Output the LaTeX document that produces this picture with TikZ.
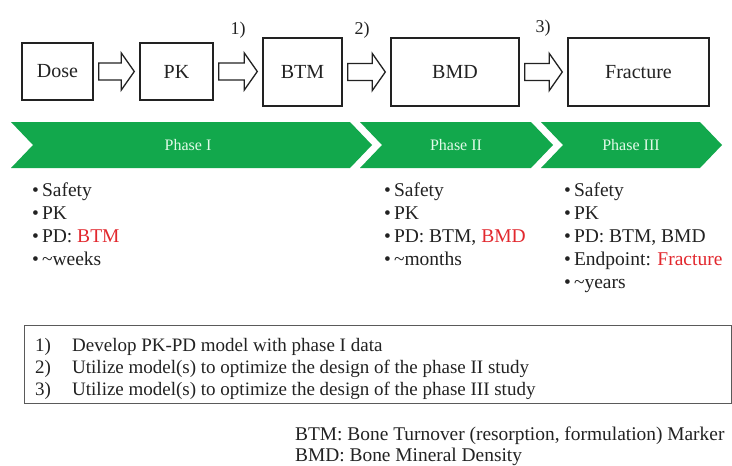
\documentclass[tikz,border=0pt]{standalone}
\usepackage{fontspec}
\setmainfont{Liberation Serif}
\usetikzlibrary{calc}

\definecolor{phasegreen}{RGB}{18,168,76}
\definecolor{phasetext}{RGB}{225,250,232}
\definecolor{hl}{RGB}{226,40,46}
\definecolor{ink}{RGB}{34,34,34}
\definecolor{notegray}{RGB}{90,90,90}

% hollow block arrow between two stage boxes
\newcommand{\blockarrow}[2]{%
  \draw[blk] let \p1=(#1.east), \p2=(#2.west) in
    (\x1+5pt,\y1+8.5pt) -- (\x2-18pt,\y1+8.5pt) -- (\x2-18pt,\y1+18.5pt)
    -- (\x2-5pt,\y1) -- (\x2-18pt,\y1-18.5pt) -- (\x2-18pt,\y1-8.5pt)
    -- (\x1+5pt,\y1-8.5pt) -- cycle;}

\begin{document}
\begin{tikzpicture}[x=1pt,y=-1pt,
  stage/.style={draw=ink, line width=1.4pt, fill=white, inner sep=0pt,
    text=ink, font=\fontsize{20}{22}\selectfont},
  blk/.style={draw=ink, line width=1.3pt, fill=white, line join=miter},
  phase/.style={fill=phasegreen},
  phaselabel/.style={text=phasetext, inner sep=0pt, font=\fontsize{16}{18}\selectfont},
  steplabel/.style={text=ink, inner sep=0pt, font=\fontsize{18}{18}\selectfont},
  bullets/.style={align=left, anchor=north west, inner sep=0pt, text=ink,
    font=\fontsize{19.5}{23}\selectfont},
  notelines/.style={align=left, anchor=north west, inner sep=0pt, text=ink,
    font=\fontsize{19}{22}\selectfont},
]
\useasboundingbox[fill=white] (0,0) rectangle (732,466);

% ---- causal chain ----
\node[stage, minimum width=71,  minimum height=57] (dose) at (57.5,71.5) {Dose};
\node[stage, minimum width=73,  minimum height=57] (pk)   at (176.5,71.5) {PK};
\node[stage, minimum width=79,  minimum height=68] (btm)  at (302.5,72) {BTM};
\node[stage, minimum width=128, minimum height=68] (bmd)  at (455,72) {BMD};
\node[stage, minimum width=141, minimum height=68] (frac) at (638.5,72) {Fracture};

\blockarrow{dose}{pk}
\blockarrow{pk}{btm}
\blockarrow{btm}{bmd}
\blockarrow{bmd}{frac}

\node[steplabel] (s1) at (238,30) {1)};
\node[steplabel] (s2) at (362,30) {2)};
\node[steplabel] (s3) at (543,28) {3)};

% ---- phase chevrons ----
\fill[phase] (11,122) -- (350,122) -- (372,145) -- (350,168) -- (11,168) -- (33,145) -- cycle;
\fill[phase] (360,122) -- (531,122) -- (553,145) -- (531,168) -- (360,168) -- (382,145) -- cycle;
\fill[phase] (541,122) -- (700,122) -- (722,145) -- (700,168) -- (541,168) -- (563,145) -- cycle;

\node[phaselabel] (ph1) at (188,145) {Phase I};
\node[phaselabel] (ph2) at (456,145) {Phase II};
\node[phaselabel] (ph3) at (631,145) {Phase III};

% ---- phase contents ----
\node[bullets] (list1) at (32,183) {%
  \textbullet\hspace{3pt}Safety\\
  \textbullet\hspace{3pt}PK\\
  \textbullet\hspace{3pt}PD: \textcolor{hl}{BTM}\\
  \textbullet\hspace{3pt}\textasciitilde weeks};
\node[bullets] (list2) at (384,183) {%
  \textbullet\hspace{3pt}Safety\\
  \textbullet\hspace{3pt}PK\\
  \textbullet\hspace{3pt}PD: BTM, \textcolor{hl}{BMD}\\
  \textbullet\hspace{3pt}\textasciitilde months};
\node[bullets] (list3) at (564,183) {%
  \textbullet\hspace{3pt}Safety\\
  \textbullet\hspace{3pt}PK\\
  \textbullet\hspace{3pt}PD: BTM, BMD\\
  \textbullet\hspace{3pt}Endpoint: \textcolor{hl}{Fracture}\\
  \textbullet\hspace{3pt}\textasciitilde years};

% ---- modelling steps ----
\node[draw=notegray, line width=1pt, minimum width=707, minimum height=78,
  inner sep=0pt] (notes) at (377.5,364) {};
\node[notelines] (notetext) at (35,338) {%
  \makebox[37pt][l]{1)}Develop PK-PD model with phase I data\\
  \makebox[37pt][l]{2)}Utilize model(s) to optimize the design of the phase II study\\
  \makebox[37pt][l]{3)}Utilize model(s) to optimize the design of the phase III study};

% ---- abbreviations ----
\node[notelines, font=\fontsize{19.4}{21}\selectfont] (legend) at (295,427) {%
  BTM: Bone Turnover (resorption, formulation) Marker\\
  BMD: Bone Mineral Density};
\end{tikzpicture}
\end{document}
